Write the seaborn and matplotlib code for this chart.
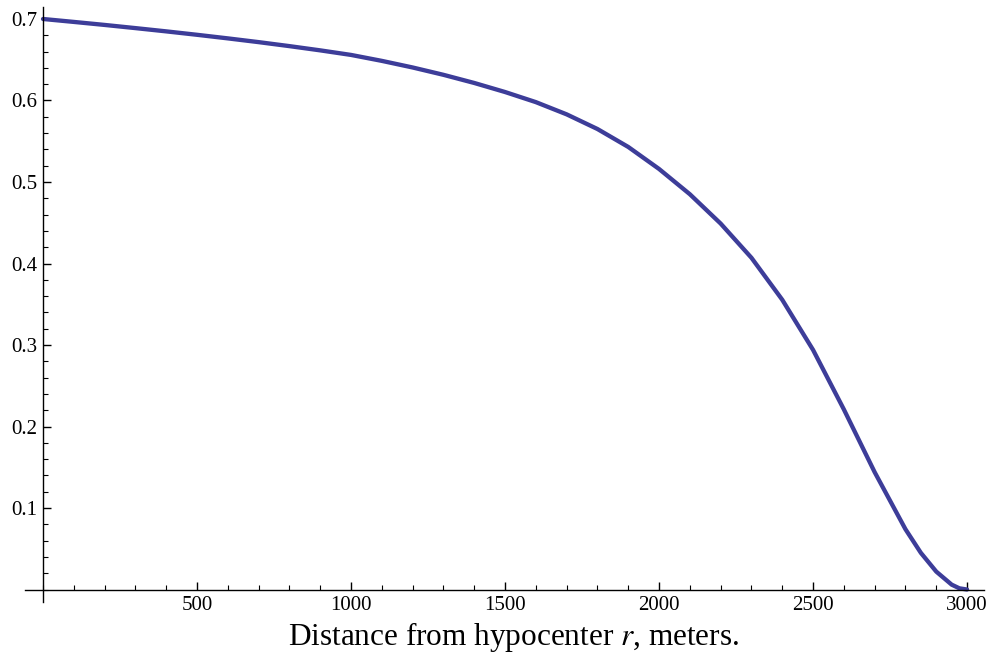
import numpy as np
import pandas as pd
import matplotlib
matplotlib.use('Agg')
import matplotlib.pyplot as plt
from matplotlib.ticker import MultipleLocator, FixedLocator
import seaborn as sns

# values
distance = [0, 100, 200, 300, 400, 500, 600, 700, 800, 900,
            1000, 1100, 1200, 1300, 1400, 1500, 1600, 1700, 1800, 1900,
            2000, 2100, 2200, 2300, 2400, 2500, 2600, 2700, 2800, 2850,
            2900, 2950, 2975, 3000]
fraction = [0.7000, 0.6964, 0.6927, 0.6888, 0.6848, 0.6806, 0.6762, 0.6716, 0.6667, 0.6615,
            0.6559, 0.6486, 0.6405, 0.6315, 0.6215, 0.6104, 0.5980, 0.5830, 0.5650, 0.5430,
            0.5160, 0.4850, 0.4490, 0.4070, 0.3555, 0.2940, 0.2210, 0.1440, 0.0740, 0.0450,
            0.0220, 0.0060, 0.0015, 0.0000]

x_ticks = [500, 1000, 1500, 2000, 2500, 3000]
y_ticks = [0.1, 0.2, 0.3, 0.4, 0.5, 0.6, 0.7]
x_label = 'Distance from hypocenter $r$, meters.'

sns.set_style('ticks')
plt.rcParams['font.family'] = ['Liberation Serif', 'DejaVu Serif']
plt.rcParams['mathtext.fontset'] = 'stix'

df = pd.DataFrame({'r': distance, 'v': fraction})

fig = plt.figure(figsize=(9.9, 6.59), dpi=100)
W, H = 990, 659
# axes box in pixels: left 25, right 984, top 7, bottom 602
ax = fig.add_axes([25 / W, 1 - 602 / H, (984 - 25) / W, (602 - 7) / H])

sns.lineplot(data=df, x='r', y='v', ax=ax, color='#3d3d99', linewidth=3.1,
             solid_capstyle='round', solid_joinstyle='round')

ax.set_xlim(-58.5, 3055)
ax.set_ylim(-0.0153, 0.7147)

for side in ['top', 'right']:
    ax.spines[side].set_visible(False)
ax.spines['left'].set_position(('data', 0))
ax.spines['bottom'].set_position(('data', 0))
for side in ['left', 'bottom']:
    ax.spines[side].set_linewidth(1.0)
    ax.spines[side].set_color('black')

ax.xaxis.set_major_locator(FixedLocator(x_ticks))
ax.yaxis.set_major_locator(FixedLocator(y_ticks))
ax.xaxis.set_minor_locator(MultipleLocator(100))
ax.yaxis.set_minor_locator(MultipleLocator(0.02))
ax.set_xticklabels([str(t) for t in x_ticks])
ax.set_yticklabels([f'{t:.1f}' for t in y_ticks])

ax.tick_params(which='major', direction='in', length=6, width=1.0, color='black',
               labelsize=15, labelcolor='black')
ax.tick_params(which='minor', direction='in', length=3.5, width=0.8, color='black')
ax.tick_params(axis='x', which='major', pad=5)
ax.tick_params(axis='y', which='major', pad=4)

ax.set_xlabel('')
ax.set_ylabel('')
fig.text(514 / W, 1 - 645 / H, x_label, ha='center', va='baseline', fontsize=22.5,
         color='black')

fig.patch.set_facecolor('white')
ax.set_facecolor('white')
fig.savefig('out.png', dpi=100)
